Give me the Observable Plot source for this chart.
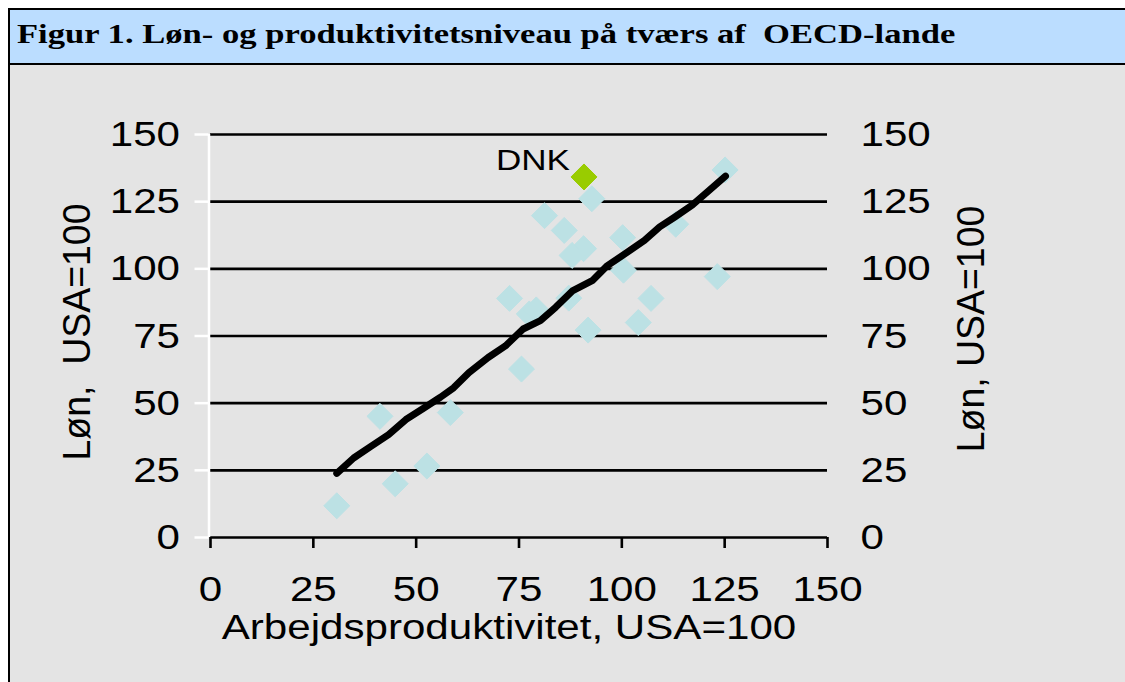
<!DOCTYPE html>
<html><head><meta charset="utf-8">
<script src="https://cdn.jsdelivr.net/npm/d3@7"></script>
<script src="https://cdn.jsdelivr.net/npm/@observablehq/plot@0.6"></script>
<style>
html,body{margin:0;padding:0;background:#fff;}
#frame{position:absolute;left:0;top:0;width:1125px;height:682px;overflow:hidden;background:#fff;}
#titlebar{position:absolute;left:8px;top:8px;width:1117px;height:57px;background:#BBDDFF;border-top:2px solid #000;border-left:2px solid #000;border-bottom:2px solid #000;box-sizing:border-box;}
#title{position:absolute;left:17px;top:20px;font-family:"Liberation Serif","Times New Roman",serif;font-weight:bold;font-size:28px;line-height:28px;white-space:pre;color:#000;transform:scaleX(1.235);transform-origin:0 0;}
#body{position:absolute;left:8px;top:65px;width:1117px;height:617px;background:#E4E4E4;border-left:2px solid #000;box-sizing:border-box;}
#chart{position:absolute;left:10px;top:65px;}
</style>
</head><body>
<div id="frame">
  <div id="titlebar"></div>
  <div id="body"></div>
  <div id="title"></div>
  <div id="chart"></div>
</div>
<script>
const titleText = "Figur 1. Løn- og produktivitetsniveau på tværs af  OECD-lande";
const xTitle = "Arbejdsproduktivitet, USA=100";
const yTitleLeft = "Løn,\u00a0 USA=100";
const yTitleRight = "Løn, USA=100";
const xTicks = [0, 25, 50, 75, 100, 125, 150];
const yTicks = [0, 25, 50, 75, 100, 125, 150];

// OECD countries: productivity (x) and wage (y), USA = 100
const prodX = [30.7, 44.9, 52.6, 41.2, 58.3, 75.6, 72.7, 77.5, 79.2, 87.1, 91.8, 104.0, 107.1, 100.4, 123.2, 100.2, 113.1, 125.1, 92.7, 81.2, 86.0, 90.7, 87.9];
const wageY = [11.8, 20.0, 26.6, 45.1, 46.5, 62.7, 89.0, 83.2, 84.7, 89.1, 77.2, 80.0, 89.0, 99.5, 97.1, 111.6, 116.6, 136.8, 126.1, 119.8, 114.3, 107.5, 105.0];

const dnkName = ["DNK"];
const dnkX = [90.8];
const dnkY = [134.2];

// trend line
const trendX = [30.7, 34.8, 39.0, 43.3, 47.5, 51.7, 55.9, 59.1, 62.8, 67.5, 71.7, 76.0, 80.2, 83.9, 88.1, 92.8, 96.5, 100.2, 105.5, 109.2, 112.9, 117.1, 121.3, 125.2];
const trendY = [23.9, 29.6, 33.9, 38.3, 43.9, 48.0, 52.2, 55.7, 61.3, 67.0, 71.3, 77.6, 80.7, 85.7, 91.9, 95.6, 101.2, 105.0, 110.6, 115.6, 119.3, 123.7, 129.3, 134.5];

const points = prodX.map((x, i) => ({x, y: wageY[i]}));
const dnk = dnkName.map((name, i) => ({name, x: dnkX[i], y: dnkY[i]}));
const trend = trendX.map((x, i) => ({x, y: trendY[i]}));

document.getElementById("title").textContent = titleText;

const chart = Plot.plot({
  width: 1115,
  height: 617,
  marginLeft: 200,
  marginRight: 298,
  marginTop: 69,
  marginBottom: 145,
  style: {background: "transparent", fontFamily: "'Liberation Sans', Arial, sans-serif", fontSize: "36px", color: "#000", overflow: "visible"},
  x: {domain: [0, 150]},
  y: {domain: [0, 150]},
  marks: [
    Plot.ruleY(yTicks, {stroke: "#000", strokeWidth: 2.6}),
    Plot.ruleX([0], {stroke: "#fff", strokeWidth: 2.5, dx: -1.5}),
    Plot.axisY(yTicks, {anchor: "left", tickSize: 14, tickPadding: 15, stroke: "#fff", strokeWidth: 2.5, label: null, fontSize: 36, dx: -1.5}),
    Plot.axisY(yTicks, {anchor: "right", tickSize: 0, tickPadding: 33, label: null, fontSize: 36}),
    Plot.axisX(xTicks, {anchor: "bottom", tickSize: 11, tickPadding: 27, stroke: "#000", strokeWidth: 2.6, label: null, fontSize: 36}),
    Plot.dot(points, {x: "x", y: "y", symbol: "diamond2", r: 11.7, fill: "#BCE1E4", stroke: "#BCE1E4", strokeWidth: 1, strokeLinejoin: "round"}),
    Plot.dot(dnk, {x: "x", y: "y", symbol: "diamond2", r: 11.7, fill: "#99CC00", stroke: "#99CC00", strokeWidth: 1, strokeLinejoin: "round"}),
    Plot.line(trend, {x: "x", y: "y", stroke: "#000", strokeWidth: 7, strokeLinecap: "round", strokeLinejoin: "round"}),
    Plot.text(dnk, {x: "x", y: "y", text: "name", textAnchor: "end", dx: -14, dy: -17, fontSize: 30}),
    Plot.text([xTitle], {text: d => d, frameAnchor: "bottom", dy: 101, dx: -10, fontSize: 36}),
    Plot.text([yTitleLeft], {text: d => d, frameAnchor: "left", textAnchor: "middle", rotate: -90, dx: -133, dy: -4, fontSize: 36}),
    Plot.text([yTitleRight], {text: d => d, frameAnchor: "right", textAnchor: "middle", rotate: -90, dx: 144, dy: -7, fontSize: 36})
  ]
});

// widen glyphs horizontally, as in the original (stretched) chart
for (const t of chart.querySelectorAll("text")) {
  const tr = t.getAttribute("transform") || "";
  const rot = /rotate\(/.test(tr);
  const x = +t.getAttribute("x") || 0, y = +t.getAttribute("y") || 0;
  const sc = rot ? "scale(1.04,1.1)" : "scale(1.17,1)";
  t.setAttribute("transform", `${tr} translate(${x},${y}) ${sc} translate(${-x},${-y})`);
}
document.getElementById("chart").appendChild(chart);
</script>
</body></html>
